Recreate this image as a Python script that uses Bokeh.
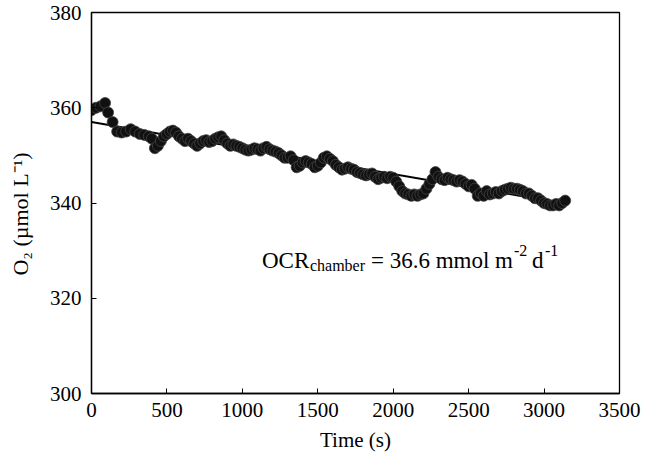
from bokeh.plotting import figure
from bokeh.models import Range1d, Label, FixedTicker
from bokeh.embed import file_html
from bokeh.resources import INLINE

time_s = [0, 30, 60, 90, 110, 140, 170, 200, 230, 260, 290, 320, 350, 380, 400, 420, 440, 460, 480, 500,
          520, 540, 560, 580, 600, 620, 640, 660, 680, 700, 720, 740, 760, 780, 800, 820, 840, 860, 880, 900,
          920, 940, 960, 980, 1000, 1020, 1040, 1060, 1080, 1100, 1120, 1140, 1160, 1180, 1200, 1220, 1240,
          1260, 1280, 1300, 1320, 1340, 1360, 1380, 1400, 1420, 1440, 1460, 1480, 1500, 1520, 1540, 1560,
          1580, 1600, 1620, 1640, 1660, 1680, 1700, 1720, 1740, 1760, 1780, 1800, 1820, 1840, 1860, 1880,
          1900, 1920, 1940, 1960, 1980, 2000, 2020, 2040, 2060, 2080, 2100, 2120, 2140, 2160, 2180, 2200,
          2220, 2240, 2260, 2280, 2300, 2320, 2340, 2360, 2380, 2400, 2420, 2440, 2460, 2480, 2500, 2520,
          2540, 2560, 2580, 2600, 2620, 2640, 2660, 2680, 2700, 2720, 2740, 2760, 2780, 2800, 2820, 2840,
          2860, 2880, 2900, 2920, 2940, 2960, 2980, 3000, 3020, 3040, 3060, 3080, 3100, 3120, 3140]
o2_umol = [359.5, 360.0, 360.3, 361.0, 359.0, 357.0, 355.0, 354.8, 355.0, 355.5, 355.0, 354.5, 354.3, 354.0,
           353.5, 351.5, 352.0, 353.0, 354.0, 354.5, 355.0, 355.2, 354.8, 354.0, 353.5, 353.0, 353.5, 353.0,
           352.5, 352.0, 352.5, 353.0, 353.2, 352.8, 353.0, 353.5, 353.8, 354.0, 353.2, 352.5, 352.0, 352.3,
           352.0, 351.8, 351.5, 351.2, 351.0, 351.2, 351.5, 351.3, 351.0, 351.5, 351.8, 351.3, 351.0, 350.8,
           350.5, 350.0, 349.5, 349.5, 349.8, 349.0, 347.5, 347.8, 348.5, 348.8, 348.5, 348.2, 347.5, 347.8,
           348.5, 349.5, 349.8, 349.3, 348.8, 348.0, 347.5, 347.0, 347.2, 347.5, 347.2, 347.0, 346.5, 346.3,
           346.0, 345.8, 346.0, 346.2, 345.5, 345.0, 345.3, 345.5, 345.2, 345.5, 345.3, 344.5, 343.5, 342.5,
           342.0, 341.8, 341.5, 341.8, 341.5, 341.8, 342.0, 343.0, 344.0, 345.0, 346.5, 345.5, 345.0, 344.8,
           345.3, 345.0, 344.8, 344.5, 344.8, 344.5, 344.0, 343.5, 343.8, 343.0, 341.5, 342.0, 341.5, 342.5,
           341.8, 342.0, 342.3, 342.0, 342.5, 342.8, 343.0, 343.2, 343.0, 343.0, 342.8, 342.5, 342.0, 342.0,
           341.5, 341.0, 341.0, 340.5, 340.0, 339.8, 339.5, 339.5, 339.8, 339.5, 340.0, 340.5]

fit_x = [0, 3150]
fit_y = [357.0, 339.8]

x_ticks = [0, 500, 1000, 1500, 2000, 2500, 3000, 3500]
y_ticks = [300, 320, 340, 360, 380]

FONT = "Liberation Serif"

p = figure(width=650, height=458, output_backend="svg", toolbar_location=None,
           x_range=Range1d(0, 3500), y_range=Range1d(300, 380),
           min_border_left=91, min_border_right=31, min_border_top=12, min_border_bottom=65)
p.background_fill_color = "white"
p.border_fill_color = "white"
p.xgrid.visible = False
p.ygrid.visible = False
p.outline_line_color = "black"
p.outline_line_width = 1.3

for ax in (p.xaxis[0], p.yaxis[0]):
    ax.axis_line_color = "black"
    ax.axis_line_width = 1.3
    ax.major_tick_in = 5
    ax.major_tick_out = 0
    ax.major_tick_line_color = "black"
    ax.minor_tick_line_color = None
    ax.major_label_text_font = FONT
    ax.major_label_text_font_size = "21px"
    ax.major_label_text_color = "black"
    ax.axis_label_text_font = FONT
    ax.axis_label_text_font_size = "21px"
    ax.axis_label_text_font_style = "normal"
    ax.axis_label_text_color = "black"

p.xaxis[0].ticker = FixedTicker(ticks=x_ticks)
p.yaxis[0].ticker = FixedTicker(ticks=y_ticks)
p.xaxis[0].major_label_standoff = 9
p.yaxis[0].major_label_standoff = 10
p.xaxis[0].axis_label = "Time (s)"
p.xaxis[0].axis_label_standoff = 8
# trailing em space nudges the centred rotated title slightly downward, as in the original
p.yaxis[0].axis_label = "O\u2082 (\u00b5mol L\u207b\u00b9)\u2003"
p.yaxis[0].axis_label_text_font_size = "22px"
p.yaxis[0].axis_label_standoff = 14

p.line(fit_x, fit_y, line_color="black", line_width=2)
p.scatter(time_s, o2_umol, size=11, marker="circle", fill_color="#111111", line_color="#444444", line_width=0.8)

# annotation: OCR_chamber = 36.6 mmol m^-2 d^-1
ax0, ay0 = 1130, 328
parts = [
    ("OCR", "23px", 0, 0),
    ("chamber", "16px", 48, -5),
    ("= 36.6 mmol m", "23px", 109, 0),
    ("-2", "16px", 252, 10),
    ("d", "23px", 270, 0),
    ("-1", "16px", 283, 10),
]
for txt, fs, xo, yo in parts:
    p.add_layout(Label(x=ax0, y=ay0, x_offset=xo, y_offset=yo, text=txt,
                       text_font=FONT, text_font_size=fs, text_color="black",
                       text_baseline="alphabetic", text_align="left"))

open("out.html", "w").write(file_html(p, INLINE))
